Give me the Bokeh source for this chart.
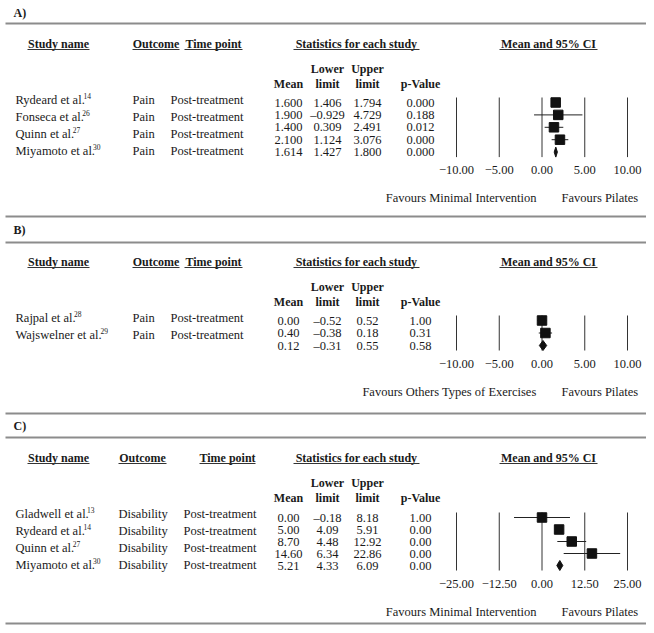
from bokeh.plotting import figure
from bokeh.models import Range1d
from bokeh.core.properties import value
from bokeh.embed import file_html
from bokeh.resources import INLINE

# ---------------- data ----------------
# Panel A: Pilates vs minimal intervention (pain)
a_names = ["Rydeard et al.", "Fonseca et al.", "Quinn et al.", "Miyamoto et al."]
a_refs = ["14", "26", "27", "30"]
a_outcome = ["Pain", "Pain", "Pain", "Pain"]
a_time = ["Post-treatment", "Post-treatment", "Post-treatment", "Post-treatment"]
a_mean = [1.600, 1.900, 1.400, 2.100, 1.614]
a_lower = [1.406, -0.929, 0.309, 1.124, 1.427]
a_upper = [1.794, 4.729, 2.491, 3.076, 1.800]
a_p = ["0.000", "0.188", "0.012", "0.000", "0.000"]
a_ticks = [-10, -5, 0, 5, 10]
a_tick_labels = ["−10.00", "−5.00", "0.00", "5.00", "10.00"]

# Panel B: Pilates vs other exercises (pain)
b_names = ["Rajpal et al.", "Wajswelner et al."]
b_refs = ["28", "29"]
b_outcome = ["Pain", "Pain"]
b_time = ["Post-treatment", "Post-treatment"]
b_mean = [0.00, 0.40, 0.12]
b_lower = [-0.52, -0.38, -0.31]
b_upper = [0.52, 0.18, 0.55]          # as printed in the table
b_upper_plot = [0.52, 1.18, 0.55]     # as drawn in the forest plot
b_p = ["1.00", "0.31", "0.58"]
b_ticks = [-10, -5, 0, 5, 10]
b_tick_labels = ["−10.00", "−5.00", "0.00", "5.00", "10.00"]

# Panel C: Pilates vs minimal intervention (disability)
c_names = ["Gladwell et al.", "Rydeard et al.", "Quinn et al.", "Miyamoto et al."]
c_refs = ["13", "14", "27", "30"]
c_outcome = ["Disability", "Disability", "Disability", "Disability"]
c_time = ["Post-treatment", "Post-treatment", "Post-treatment", "Post-treatment"]
c_mean = [0.00, 5.00, 8.70, 14.60, 5.21]
c_lower = [-0.18, 4.09, 4.48, 6.34, 4.33]       # as printed in the table
c_lower_plot = [-8.18, 4.09, 4.48, 6.34, 4.33]  # as drawn in the forest plot
c_upper = [8.18, 5.91, 12.92, 22.86, 6.09]
c_p = ["1.00", "0.00", "0.00", "0.00", "0.00"]
c_ticks = [-25, -12.5, 0, 12.5, 25]
c_tick_labels = ["−25.00", "−12.50", "0.00", "12.50", "25.00"]

# ---------------- layout ----------------
W, H = 646, 625
X0, X1 = 0, W
Y0, Y1 = 0, H
FONT = value("Liberation Serif")
INK = "#1a1a1a"
FOREST_PX = (456, 627)
BODY_SIZE = 12.5

# Times / Liberation Serif advance widths (per 1000 em) for measuring names
TW = {" ": 250, ".": 250, "a": 444, "c": 444, "d": 500, "e": 444, "i": 278, "j": 278,
      "l": 278, "m": 778, "n": 500, "o": 500, "p": 500, "r": 333, "s": 389, "t": 278,
      "u": 500, "w": 722, "y": 500, "F": 556, "G": 722, "M": 889, "Q": 722, "R": 667,
      "W": 944}


def text_width(s, size):
    return sum(TW.get(ch, 500) for ch in s) * size / 1000.0


p = figure(width=W, height=H, x_range=Range1d(X0, X1), y_range=Range1d(Y1, Y0),
           output_backend="svg", toolbar_location=None, min_border=0,
           x_axis_type=None, y_axis_type=None)
p.grid.visible = False
p.outline_line_color = None
p.background_fill_color = "white"
p.border_fill_color = "white"


def forest_range(lo, hi):
    s = (hi - lo) / (FOREST_PX[1] - FOREST_PX[0])
    return Range1d(lo - (FOREST_PX[0] - X0) * s, hi + (X1 - FOREST_PX[1]) * s)


p.extra_x_ranges = {"fa": forest_range(-10, 10), "fc": forest_range(-25, 25)}


def txt(xs, ys, texts, align="left", bold=False, size="12.5px", rng="default"):
    p.text(x=xs, y=ys, text=texts, text_font=FONT, text_font_size=size,
           text_font_style="bold" if bold else "normal", text_color=INK,
           text_align=align, text_baseline="middle", x_range_name=rng)


def fmt(vals, nd):
    return [f"{v:.{nd}f}".replace("-", "–") for v in vals]


# separators
sep_y = [23, 216, 242, 413, 437, 623]
p.segment(x0=[5] * len(sep_y), x1=[W] * len(sep_y), y0=sep_y, y1=sep_y,
          line_color="#8c8c8c", line_width=2)

txt([13, 13, 13], [12, 229, 425], ["A)", "B)", "C)"], bold=True, size="12px")


def panel(hy, names, refs, outcome, time, mean, lower, upper, p_txt, lower_plot, upper_plot,
          nd, ticks, tick_labels, rng, name_y0, name_step, row_y0, row_step,
          out_x, time_x, out_hdr, time_hdr, fav_left):
    # headers
    txt([58, out_hdr[0], time_hdr[0], 356, 548], [hy] * 5,
        ["Study name", "Outcome", "Time point", "Statistics for each study", "Mean and 95% CI"],
        align="center", bold=True, size="12px")
    ul = [(27, 89), out_hdr[1], time_hdr[1], (293, 419), (499, 597)]
    p.segment(x0=[u[0] for u in ul], x1=[u[1] for u in ul], y0=[hy + 6] * 5, y1=[hy + 6] * 5,
              line_color="#333333", line_width=1)
    txt([327, 367], [hy + 25] * 2, ["Lower", "Upper"], align="center", bold=True, size="12px")
    txt([288, 327, 367, 420], [hy + 40] * 4, ["Mean", "limit", "limit", "p-Value"],
        align="center", bold=True, size="12px")

    # study rows
    ny = [name_y0 + i * name_step for i in range(len(names))]
    txt([15] * len(names), ny, names)
    txt([15 + text_width(nm, BODY_SIZE) * 0.975 for nm in names], [y - 4 for y in ny], refs,
        size="7.5px")
    txt([out_x] * len(names), ny, outcome)
    txt([time_x] * len(names), ny, time)

    ry = [row_y0 + i * row_step for i in range(len(mean))]
    txt([288] * len(ry), ry, fmt(mean, nd), align="center")
    txt([327] * len(ry), ry, fmt(lower, nd), align="center")
    txt([367] * len(ry), ry, fmt(upper, nd), align="center")
    txt([420] * len(ry), ry, p_txt, align="center")

    # forest plot
    top, bot = ry[0] - 5, ry[-1] + 5
    p.segment(x0=ticks, x1=ticks, y0=[top] * len(ticks), y1=[bot] * len(ticks),
              line_color="#333333", line_width=1, x_range_name=rng)
    n = len(mean) - 1
    p.segment(x0=lower_plot[:n], x1=upper_plot[:n], y0=ry[:n], y1=ry[:n],
              line_color="#222222", line_width=1, x_range_name=rng)
    p.scatter(x=mean[:n], y=ry[:n], marker="square", size=9.5, color="#111111",
              x_range_name=rng)
    ys = ry[n]
    p.patches(xs=[[lower_plot[n], mean[n], upper_plot[n], mean[n]]],
              ys=[[ys, ys - 5, ys, ys + 5]], color="#111111", x_range_name=rng)
    txt(ticks, [bot + 13] * len(ticks), tick_labels, align="center", rng=rng)

    fy = bot + 41
    txt([536], [fy], [fav_left], align="right")
    txt([561], [fy], ["Favours Pilates"], align="left")


panel(43, a_names, a_refs, a_outcome, a_time, a_mean, a_lower, a_upper, a_p, a_lower, a_upper,
      3, a_ticks, a_tick_labels, "fa", 99, 17.3, 102, 12.4, 132, 170,
      (155.5, (132, 179)), (213, (184, 242)), "Favours Minimal Intervention")

panel(261, b_names, b_refs, b_outcome, b_time, b_mean, b_lower, b_upper, b_p, b_lower,
      b_upper_plot, 2, b_ticks, b_tick_labels, "fa", 317, 17, 320, 12.5, 132, 170,
      (155.5, (132, 179)), (213, (184, 242)), "Favours Others Types of Exercises")

panel(457, c_names, c_refs, c_outcome, c_time, c_mean, c_lower, c_upper, c_p, c_lower_plot,
      c_upper, 2, c_ticks, c_tick_labels, "fc", 513, 17.3, 517, 12, 118, 183,
      (142, (118, 166)), (227, (199, 255)), "Favours Minimal Intervention")

open("out.html", "w").write(file_html(p, INLINE))
